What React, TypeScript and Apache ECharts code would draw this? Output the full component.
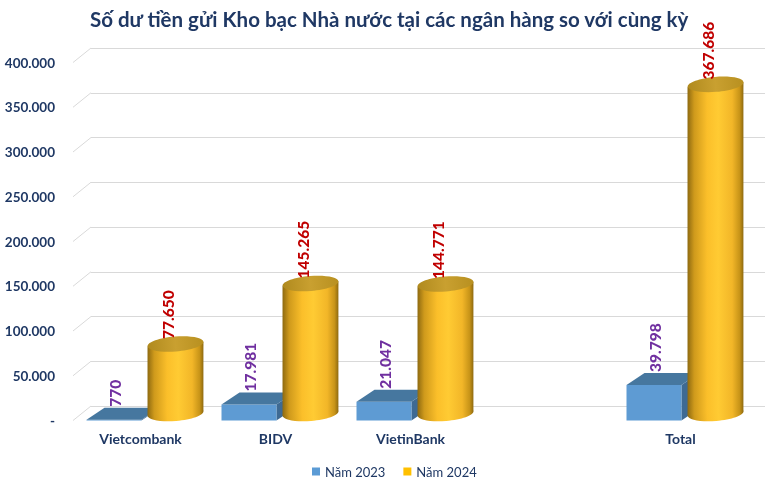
import React, { useEffect, useRef } from 'react';
import * as echarts from 'echarts';

const categories = ['Vietcombank', 'BIDV', 'VietinBank', '', 'Total'];
const values2023: (number | null)[] = [770, 17981, 21047, null, 39798];
const values2024: (number | null)[] = [77650, 145265, 144771, null, 367686];
const yTicks = [0, 50000, 100000, 150000, 200000, 250000, 300000, 350000, 400000];
const seriesNames = ['Năm 2023', 'Năm 2024'];
const titleText = 'Số dư tiền gửi Kho bạc Nhà nước tại các ngân hàng so với cùng kỳ';

const NAVY = '#1F3864';
const FONT = 'Lato, "Open Sans", sans-serif';
const fmt = (v: number) => (v === 0 ? '-' : String(v).replace(/\B(?=(\d{3})+(?!\d))/g, '.'));

const FLOOR_DX = 18;
const FLOOR_DY = -14.5;
const BOX_DX = 18;
const BOX_DY = -12;

const toData = (arr: (number | null)[]) =>
  arr.map((v, i) => (v == null ? null : [i, v])).filter((d) => d != null) as number[][];

export default function App() {
  const ref = useRef<HTMLDivElement>(null);
  useEffect(() => {
    if (!ref.current) return;
    const chart = echarts.init(ref.current, undefined, { renderer: 'svg' });

    const boxItem = (params: any, api: any) => {
      const i = api.value(0);
      const v = api.value(1);
      const [c, yv] = api.coord([i, v]);
      const y0 = api.coord([i, 0])[1];
      const bw = api.size([1, 0])[0];
      const w = bw * 0.407;
      const x0 = c - bw * 0.4;
      return {
        type: 'group',
        children: [
          {
            type: 'polygon',
            shape: { points: [[x0 + w, yv], [x0 + w + BOX_DX, yv + BOX_DY], [x0 + w + BOX_DX, y0 + BOX_DY], [x0 + w, y0]] },
            style: { fill: '#3E6A93' },
          },
          {
            type: 'rect',
            shape: { x: x0, y: yv, width: w, height: Math.max(y0 - yv, 0.5) },
            style: { fill: '#5E9BD3' },
          },
          {
            type: 'polygon',
            shape: { points: [[x0, yv], [x0 + BOX_DX, yv + BOX_DY], [x0 + w + BOX_DX, yv + BOX_DY], [x0 + w, yv]] },
            style: { fill: '#46779F' },
          },
          {
            type: 'text',
            x: x0 + w / 2 + 1,
            y: yv + BOX_DY - 1,
            rotation: Math.PI / 2,
            style: {
              text: fmt(v),
              fill: '#7030A0',
              font: `900 15.5px ${FONT}`,
              align: 'left',
              verticalAlign: 'middle',
            },
          },
        ],
      };
    };

    const cylItem = (params: any, api: any) => {
      const i = api.value(0);
      const v = api.value(1);
      const [c, yv] = api.coord([i, v]);
      const y0 = api.coord([i, 0])[1];
      const bw = api.size([1, 0])[0];
      const r = bw * 0.207;
      const cx = c + bw * 0.259;
      const ty = yv - 7;
      const by = y0 - 7;
      const ry = 7.5;
      const tilt = 0.08;
      const t = r * Math.sin(tilt);
      const bodyGrad = new echarts.graphic.LinearGradient(0, 0, 1, 0, [
        { offset: 0, color: '#8E6A10' },
        { offset: 0.12, color: '#CF9A1C' },
        { offset: 0.35, color: '#FBBF2A' },
        { offset: 0.55, color: '#FFCB33' },
        { offset: 0.8, color: '#F2B628' },
        { offset: 0.93, color: '#C89418' },
        { offset: 1, color: '#8E6A10' },
      ]);
      const topGrad = new echarts.graphic.LinearGradient(0, 0, 1, 0, [
        { offset: 0, color: '#B08A1E' },
        { offset: 0.5, color: '#C9A030' },
        { offset: 1, color: '#B89020' },
      ]);
      return {
        type: 'group',
        children: [
          {
            type: 'ellipse',
            shape: { cx, cy: by, rx: r, ry },
            rotation: tilt,
            originX: cx,
            originY: by,
            style: { fill: bodyGrad },
          },
          {
            type: 'polygon',
            shape: { points: [[cx - r, ty + t], [cx + r, ty - t], [cx + r, by - t], [cx - r, by + t]] },
            style: { fill: bodyGrad },
          },
          {
            type: 'ellipse',
            shape: { cx, cy: ty, rx: r, ry },
            rotation: tilt,
            originX: cx,
            originY: ty,
            style: { fill: topGrad },
          },
          {
            type: 'text',
            x: cx - 7.5,
            y: yv - 12,
            rotation: Math.PI / 2,
            style: {
              text: fmt(v),
              fill: '#C00000',
              font: `900 15.5px ${FONT}`,
              align: 'left',
              verticalAlign: 'middle',
            },
          },
        ],
      };
    };

    const diagItem = (params: any, api: any) => {
      const v = api.value(1);
      const y = api.coord([0, v])[1];
      const x = params.coordSys.x;
      return {
        type: 'line',
        shape: { x1: x, y1: y, x2: x + FLOOR_DX, y2: y + FLOOR_DY },
        style: { stroke: '#D9D9D9', lineWidth: 1 },
      };
    };

    chart.setOption({
      animation: false,
      title: {
        text: titleText,
        left: 85,
        top: 3,
        textStyle: { fontFamily: FONT, fontSize: 20.5, fontWeight: 'bold', color: NAVY },
      },
      legend: {
        data: seriesNames,
        left: 307,
        top: 460,
        itemWidth: 8,
        itemHeight: 8,
        itemGap: 18,
        icon: 'rect',
        textStyle: { fontFamily: FONT, fontSize: 13, color: NAVY },
      },
      grid: [
        { left: 73, right: 36, top: 62.5, bottom: 62.5 },
        { left: 91, right: 19, top: 48, bottom: 77 },
      ],
      xAxis: [
        {
          type: 'category',
          gridIndex: 0,
          data: categories,
          axisLine: { show: false },
          axisTick: { show: false },
          axisLabel: { margin: 11, fontFamily: FONT, fontSize: 14, fontWeight: 'bold', color: NAVY },
        },
        {
          type: 'category',
          gridIndex: 1,
          data: categories,
          show: false,
        },
      ],
      yAxis: [
        {
          type: 'value',
          gridIndex: 0,
          min: 0,
          max: 400000,
          interval: 50000,
          splitLine: { show: false },
          axisLine: { show: false },
          axisTick: { show: false },
          axisLabel: { margin: 18, formatter: fmt, fontFamily: FONT, fontSize: 13.5, fontWeight: 'bold', color: NAVY },
        },
        {
          type: 'value',
          gridIndex: 1,
          min: 0,
          max: 400000,
          interval: 50000,
          axisLine: { show: false },
          axisTick: { show: false },
          axisLabel: { show: false },
          splitLine: { show: true, lineStyle: { color: '#D9D9D9', width: 1 } },
        },
      ],
      series: [
        {
          type: 'custom',
          name: 'floor',
          xAxisIndex: 0,
          yAxisIndex: 0,
          silent: true,
          renderItem: diagItem,
          data: yTicks.map((v) => [0, v]),
          z: 1,
        },
        {
          type: 'custom',
          name: seriesNames[0],
          xAxisIndex: 0,
          yAxisIndex: 0,
          itemStyle: { color: '#5B9BD5' },
          renderItem: boxItem,
          data: toData(values2023),
          z: 2,
        },
        {
          type: 'custom',
          name: seriesNames[1],
          xAxisIndex: 0,
          yAxisIndex: 0,
          itemStyle: { color: '#FFC000' },
          renderItem: cylItem,
          data: toData(values2024),
          z: 3,
        },
      ],
    });
    return () => chart.dispose();
  }, []);
  return <div ref={ref} style={{ position: 'fixed', left: 0, top: 0, width: 784, height: 483 }} />;
}
